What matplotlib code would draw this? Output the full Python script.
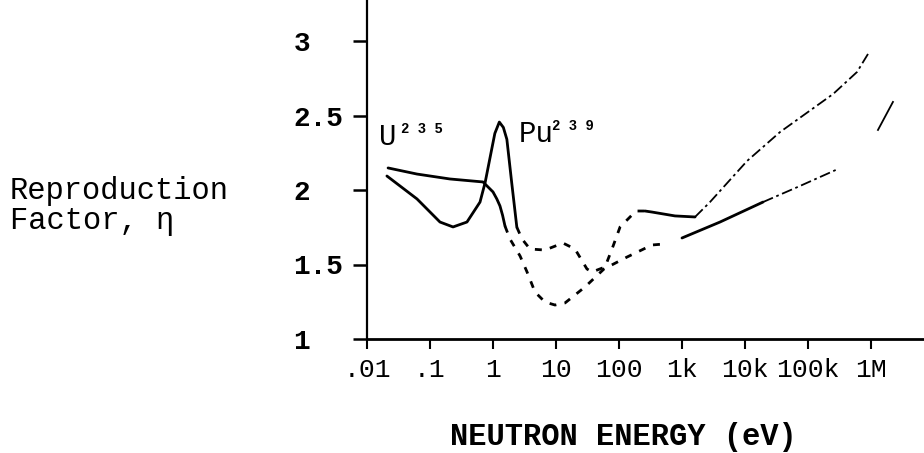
import matplotlib
matplotlib.use("Agg")
import matplotlib.pyplot as plt
from matplotlib.ticker import FixedLocator, FixedFormatter, NullLocator

# U-235 curve, split by how it is drawn (energy in eV, eta)
u235_thermal_e = [0.0216, 0.0622, 0.207, 0.694, 1.0, 1.15, 1.29, 1.42, 1.55]
u235_thermal_eta = [2.148, 2.107, 2.074, 2.054, 1.987, 1.94, 1.893, 1.83, 1.758]
u235_res_e = [1.55, 1.86, 2.69, 3.47, 4.64, 6.69, 9.64, 13.9, 28.8, 57.8, 134, 334, 537]
u235_res_eta = [1.758, 1.671, 1.557, 1.450, 1.315, 1.248, 1.228, 1.242, 1.349, 1.470, 1.550, 1.631, 1.638]
u235_fast_e = [1000, 4010, 19300]
u235_fast_eta = [1.678, 1.785, 1.919]
u235_faded_e = [19300, 74600, 299000]
u235_faded_eta = [1.919, 2.027, 2.141]
u235_tail_e = [1.29e6, 2.23e6]
u235_tail_eta = [2.403, 2.591]

# Pu-239 curve
pu239_thermal_e = [0.0207, 0.0622, 0.144, 0.232, 0.386, 0.622, 0.75, 0.95, 1.07,
                   1.26, 1.46, 1.66, 1.98, 2.39]
pu239_thermal_eta = [2.094, 1.940, 1.785, 1.752, 1.785, 1.919, 2.05, 2.27, 2.38,
                     2.456, 2.42, 2.34, 2.05, 1.75]
pu239_res_e = [2.39, 2.89, 3.86, 6.69, 12.9, 20.0, 31.0, 37.3, 60.0, 77.5, 104, 186, 259]
pu239_res_eta = [1.75, 1.671, 1.604, 1.597, 1.644, 1.604, 1.470, 1.450, 1.483, 1.604,
                 1.752, 1.859, 1.859]
pu239_fast_e = [259, 334, 774, 1610]
pu239_fast_eta = [1.859, 1.852, 1.826, 1.819]
pu239_faded_e = [1610, 2780, 10800, 36000, 129000, 250000, 600000, 896000]
pu239_faded_eta = [1.819, 1.919, 2.195, 2.389, 2.557, 2.644, 2.792, 2.913]

x_ticks = [1e-2, 1e-1, 1, 10, 100, 1e3, 1e4, 1e5, 1e6]
x_tick_labels = [".01", ".1", "1", "10", "100", "1k", "10k", "100k", "1M"]
y_ticks = [1, 1.5, 2, 2.5, 3]
y_tick_labels = ["1", "1.5", "2", "2.5", "3"]

W, H = 924, 453
plt.rcParams["font.family"] = ["Liberation Mono", "DejaVu Sans Mono"]


def px(x, y):
    """Pixel position in the picture -> figure fraction."""
    return x / W, 1 - y / H


fig = plt.figure(figsize=(W / 100, H / 100), dpi=100)
ax = fig.add_axes([367 / W, 1 - 339 / H, 1 - 367 / W, 339 / H])

ax.set_xscale("log")
ax.set_xlim(0.01, 10 ** (-2 + 557 / 63))
ax.set_ylim(1, 1 + 339 / 149)

solid = dict(color="black", lw=2.0, solid_capstyle="round")
ax.plot(u235_thermal_e, u235_thermal_eta, **solid)
ax.plot(pu239_thermal_e, pu239_thermal_eta, **solid)

# resonance region is dashed in the original
ax.plot(u235_res_e, u235_res_eta, color="black", lw=2.0, dashes=(2.5, 3))
ax.plot(pu239_res_e, pu239_res_eta, color="black", lw=2.0, dashes=(2.5, 3))

ax.plot(u235_fast_e, u235_fast_eta, **solid)
ax.plot(pu239_fast_e, pu239_fast_eta, **solid)

# faded parts of the scan
faded = dict(color="black", lw=1.3, dashes=(6, 2, 1.5, 2))
ax.plot(u235_faded_e, u235_faded_eta, **faded)
ax.plot(pu239_faded_e, pu239_faded_eta, **faded)
ax.plot(u235_tail_e, u235_tail_eta, color="black", lw=1.3)

ax.xaxis.set_major_locator(FixedLocator(x_ticks))
ax.xaxis.set_major_formatter(FixedFormatter(x_tick_labels))
ax.xaxis.set_minor_locator(NullLocator())
ax.yaxis.set_major_locator(FixedLocator(y_ticks))
ax.yaxis.set_major_formatter(FixedFormatter(y_tick_labels))

for side in ["top", "right"]:
    ax.spines[side].set_visible(False)
ax.spines["left"].set_linewidth(1.6)
ax.spines["bottom"].set_linewidth(2.0)

ax.tick_params(axis="x", direction="out", length=7, width=1.5, pad=7, labelsize=19)
ax.tick_params(axis="y", direction="out", length=10, width=1.8, pad=43, labelsize=20)
for lab in ax.get_yticklabels():
    lab.set_horizontalalignment("left")
    lab.set_fontweight("bold")

# curve labels
fig.text(*px(379, 145), "U", fontsize=21, va="baseline")
fig.text(*px(401, 133), "2 3 5", fontsize=10, fontweight="bold", va="baseline")
fig.text(*px(519, 142), "Pu", fontsize=21, va="baseline")
fig.text(*px(552, 130), "2 3 9", fontsize=10, fontweight="bold", va="baseline")

fig.text(*px(10, 206), "Reproduction\nFactor, \u03b7", fontsize=22,
         ha="left", va="center", linespacing=1.0)
fig.text(*px(623, 437), "NEUTRON ENERGY (eV)", fontsize=22, fontweight="bold",
         ha="center", va="center")

fig.savefig("out.png", dpi=100)
